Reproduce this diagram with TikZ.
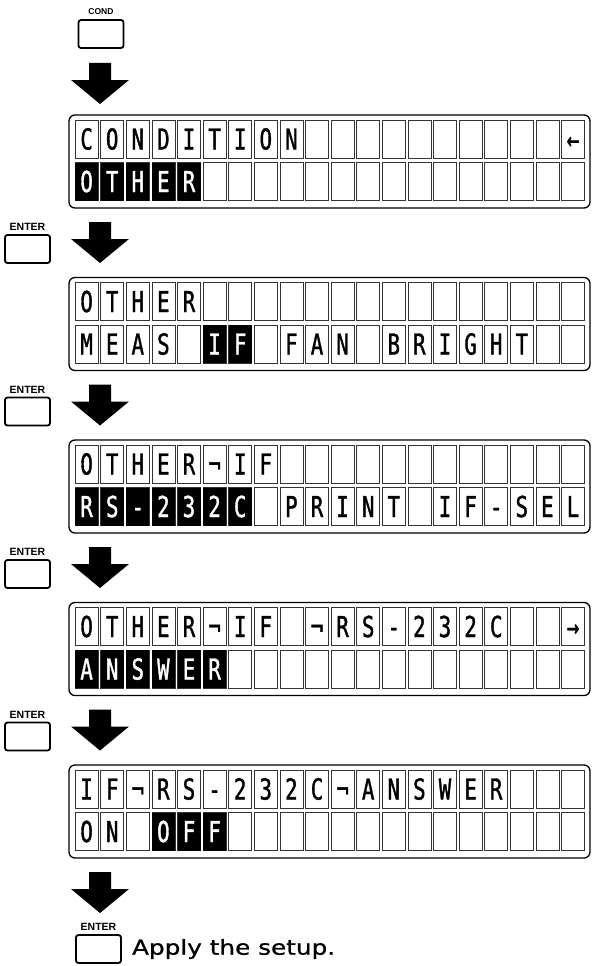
\documentclass[tikz,border=0pt]{standalone}
\usepackage{fontspec}
\usetikzlibrary{positioning}
\newfontfamily\lcdfont[FakeStretch=0.72, FakeBold=1.2]{DejaVu Sans Mono}
\newfontfamily\keyfont{Liberation Sans}
\newfontfamily\notefont[FakeStretch=1.2, FakeBold=0.8]{DejaVu Sans}

\newcommand\lcdrow[3]{%
  \foreach \k in {1,...,20}
    \node[lcdcell] (#1-\k) at ({61+25.6*\k},#2) {};
  \foreach \ch/\st [count=\k] in {#3}
    \node[lcdchar,\st] (#1-c\k) at (#1-\k) {\ch};
}

\begin{document}
\begin{tikzpicture}[
    x=1pt, y=-1pt,
    panel/.style={draw, line width=1.3pt, rounded corners=6pt,
                  minimum width=521pt, minimum height=93pt, inner sep=0pt},
    lcdcell/.style={draw=black!80, line width=0.7pt,
                    minimum width=23pt, minimum height=38pt, inner sep=0pt},
    lcdchar/.style={minimum width=23pt, minimum height=38pt, inner sep=0pt,
                    text height=21pt, text depth=0pt,
                    font=\lcdfont\fontsize{28.8}{30}\selectfont},
    lit/.style={},
    inv/.style={fill=black, text=white},
    key/.style={draw, line width=1.8pt, rounded corners=2.5pt,
                minimum width=45pt, minimum height=28pt, inner sep=0pt},
    keylabel/.style={inner sep=0pt, font=\keyfont\bfseries\fontsize{10.5}{11}\selectfont},
    note/.style={inner sep=0pt, font=\notefont\fontsize{20.6}{22}\selectfont},
    bigarrow/.pic={\fill (-11,0) -- (11,0) -- (11,17) -- (29,17) -- (0,41)
                     -- (-29,17) -- (-11,17) -- cycle;}
]
\useasboundingbox (0,0) rectangle (593,966);

\node[key] (cond) at (101,34) {};
\node[keylabel, above=4pt of cond, font=\keyfont\bfseries\fontsize{8.5}{9}\selectfont]
  (cond-label) {COND};

% panel 1
\node[panel] (p1) at (329.5,161.5) {};
\lcdrow{p1a}{139}{C/lit,O/lit,N/lit,D/lit,I/lit,T/lit,I/lit,O/lit,N/lit}
\node[lcdchar] (p1a-c20) at (p1a-20) {←};
\lcdrow{p1b}{181.5}{O/inv,T/inv,H/inv,E/inv,R/inv}

% panel 2
\node[panel] (p2) at (329.5,324) {};
\lcdrow{p2a}{301.5}{O/lit,T/lit,H/lit,E/lit,R/lit}
\lcdrow{p2b}{344}{M/lit,E/lit,A/lit,S/lit,{}/lit,I/inv,F/inv,{}/lit,F/lit,A/lit,
  N/lit,{}/lit,B/lit,R/lit,I/lit,G/lit,H/lit,T/lit}

% panel 3
\node[panel] (p3) at (329.5,486.5) {};
\lcdrow{p3a}{464}{O/lit,T/lit,H/lit,E/lit,R/lit,¬/lit,I/lit,F/lit}
\lcdrow{p3b}{506.5}{R/inv,S/inv,-/inv,2/inv,3/inv,2/inv,C/inv,{}/lit,P/lit,R/lit,
  I/lit,N/lit,T/lit,{}/lit,I/lit,F/lit,-/lit,S/lit,E/lit,L/lit}

% panel 4
\node[panel] (p4) at (329.5,649) {};
\lcdrow{p4a}{626.5}{O/lit,T/lit,H/lit,E/lit,R/lit,¬/lit,I/lit,F/lit,{}/lit,¬/lit,
  R/lit,S/lit,-/lit,2/lit,3/lit,2/lit,C/lit,{}/lit,{}/lit,→/lit}
\lcdrow{p4b}{669}{A/inv,N/inv,S/inv,W/inv,E/inv,R/inv}

% panel 5
\node[panel] (p5) at (329.5,811.5) {};
\lcdrow{p5a}{789}{I/lit,F/lit,¬/lit,R/lit,S/lit,-/lit,2/lit,3/lit,2/lit,C/lit,
  ¬/lit,A/lit,N/lit,S/lit,W/lit,E/lit,R/lit}
\lcdrow{p5b}{831.5}{O/lit,N/lit,{}/lit,O/inv,F/inv,F/inv}

\foreach \y in {63,222,384.5,547,709.5,872}
  \pic at (100,\y) {bigarrow};

\foreach \y [count=\i] in {249,411.5,574,736.5} {
  \node[key] (enter\i) at (27.5,\y) {};
  \node[keylabel, above=3pt of enter\i] (enter\i-label) {ENTER};
}

\node[key] (enter5) at (98.5,949) {};
\node[keylabel, above=3pt of enter5] (enter5-label) {ENTER};
\node[note, right=10pt of enter5] (apply) {Apply the setup.};
\end{tikzpicture}
\end{document}
